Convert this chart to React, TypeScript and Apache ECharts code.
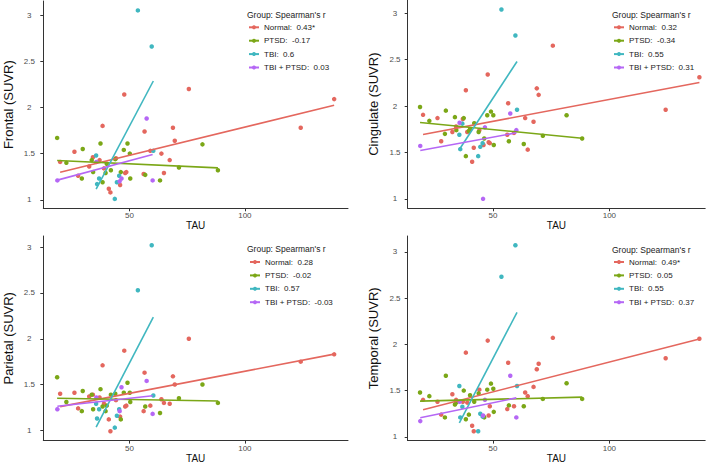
import React, { useEffect, useRef } from "react";
import * as echarts from "echarts";

// ---------- data ----------
const groups = ["Normal", "PTSD", "TBI", "TBI + PTSD"];
const groupColors = ["#E4675E", "#7BA717", "#40B7C0", "#B567F5"];

// TAU per subject, per group (same subjects in all four panels)
const normalTau = [19.9, 26.1, 27.7, 32.5, 34.1, 37.0, 38.3, 38.9, 41.0, 41.7, 44.1, 45.9, 47.7, 48.1, 48.6, 56.1, 56.5, 59.0, 63.8, 64.9, 67.4, 68.8, 69.6, 75.7, 124.2, 138.7];
const ptsdTau = [18.6, 22.6, 29.3, 29.7, 33.6, 34.2, 37.4, 38.3, 39.6, 40.1, 41.9, 43.8, 46.2, 47.5, 49.1, 50.1, 50.3, 56.8, 63.2, 71.4, 81.6, 88.3];
const tbiTau = [35.5, 35.9, 36.8, 43.6, 44.5, 45.5, 53.6, 59.6, 60.3];
const tbiPtsdTau = [18.7, 35.6, 45.7, 46.5, 57.4, 60.0];

// Frontal SUVR
const frontalNormal = [1.41, 1.52, 1.26, 1.36, 1.46, 1.43, 1.8, 1.34, 1.12, 1.08, 1.45, 1.16, 2.14, 1.29, 1.3, 1.28, 1.74, 1.53, 1.5, 1.29, 1.43, 1.78, 1.64, 2.2, 1.78, 2.09];
const frontalPtsd = [1.67, 1.4, 1.23, 1.55, 1.43, 1.3, 1.61, 1.19, 1.29, 1.39, 1.32, 1.44, 1.3, 1.54, 1.61, 1.5, 1.23, 1.27, 1.21, 1.35, 1.6, 1.32];
const frontalTbi = [1.48, 1.17, 1.23, 1.01, 1.19, 1.26, 3.05, 2.66, 1.53];
const frontalTbiPtsd = [1.21, 1.41, 1.2, 1.23, 1.88, 1.21];
const frontalFitStart = [1.299, 1.425, 1.115, 1.213];
const frontalFitEnd = [2.023, 1.346, 2.286, 1.49];
const frontalR = ["0.43*", "-0.17", "0.6", "0.03"];

// Cingulate SUVR
const cingulateNormal = [1.905, 1.87, 1.62, 1.72, 1.78, 1.86, 2.17, 1.72, 1.4, 1.55, 1.74, 1.58, 2.34, 1.61, 1.6, 1.69, 2.03, 1.71, 1.87, 1.53, 1.83, 2.19, 2.12, 2.65, 1.96, 2.31];
const cingulatePtsd = [1.99, 1.84, 1.7, 1.95, 1.88, 1.74, 1.87, 1.46, 1.73, 1.75, 1.815, 1.72, 1.65, 1.9, 1.94, 1.9, 1.58, 1.62, 1.59, 1.68, 1.9, 1.65];
const cingulateTbi = [1.69, 1.535, 1.81, 1.46, 1.56, 1.6, 3.04, 2.76, 1.96];
const cingulateTbiPtsd = [1.57, 1.82, 1.0, 1.77, 1.92, 1.74];
const cingulateFitStart = [1.693, 1.822, 1.531, 1.521];
const cingulateFitEnd = [2.253, 1.653, 2.479, 1.711];
const cingulateR = ["0.32", "-0.34", "0.55", "0.31"];

// Parietal SUVR
const parietalNormal = [1.4, 1.41, 1.24, 1.37, 1.39, 1.36, 1.71, 1.29, 1.12, 0.99, 1.33, 1.15, 1.87, 1.26, 1.27, 1.21, 1.63, 1.27, 1.34, 1.3, 1.29, 1.59, 1.5, 2.0, 1.75, 1.83];
const parietalPtsd = [1.58, 1.31, 1.21, 1.43, 1.39, 1.23, 1.45, 1.26, 1.21, 1.27, 1.39, 1.4, 1.12, 1.41, 1.52, 1.41, 1.31, 1.26, 1.19, 1.35, 1.5, 1.3];
const parietalTbi = [1.29, 1.13, 1.23, 1.03, 1.16, 1.23, 2.53, 3.02, 1.38];
const parietalTbiPtsd = [1.23, 1.36, 1.21, 1.47, 1.54, 1.18];
const parietalFitStart = [1.259, 1.35, 1.036, 1.263];
const parietalFitEnd = [1.832, 1.32, 2.236, 1.378];
const parietalR = ["0.28", "-0.02", "0.57", "-0.03"];

// Temporal SUVR
const temporalNormal = [1.4, 1.38, 1.24, 1.46, 1.4, 1.38, 1.91, 1.37, 1.12, 1.06, 1.51, 1.22, 2.04, 1.23, 1.33, 1.3, 1.8, 1.33, 1.48, 1.44, 1.54, 1.73, 1.79, 2.07, 1.85, 2.06];
const temporalPtsd = [1.48, 1.44, 1.21, 1.66, 1.35, 1.37, 1.5, 1.19, 1.24, 1.45, 1.38, 1.47, 1.21, 1.51, 1.575, 1.52, 1.27, 1.34, 1.33, 1.41, 1.58, 1.41];
const temporalTbi = [1.55, 1.21, 1.325, 1.06, 1.25, 1.22, 2.73, 3.07, 1.55];
const temporalTbiPtsd = [1.17, 1.38, 1.23, 1.4, 1.66, 1.21];
const temporalFitStart = [1.293, 1.386, 1.15, 1.207];
const temporalFitEnd = [2.057, 1.429, 2.346, 1.421];
const temporalR = ["0.49*", "0.05", "0.55", "0.37"];

const xTicks = [50, 100];
const yTicks = [1, 1.5, 2, 2.5, 3];
const legendTitle = "Group: Spearman's r";
const xName = "TAU";

const taus = [normalTau, ptsdTau, tbiTau, tbiPtsdTau];

// ---------- layout ----------
const panels = [
  { title: "Frontal (SUVR)", ys: [frontalNormal, frontalPtsd, frontalTbi, frontalTbiPtsd], fs: frontalFitStart, fe: frontalFitEnd, r: frontalR,
    grid: { left: 43.3, top: 1, width: 304.7, height: 207.3 }, xr: [12.6, 144.7], yr: [0.908, 3.152], lm: 14,
    legLeft: 248, legTop: 22.8, titLeft: 247, titTop: 10 },
  { title: "Cingulate (SUVR)", ys: [cingulateNormal, cingulatePtsd, cingulateTbi, cingulateTbiPtsd], fs: cingulateFitStart, fe: cingulateFitEnd, r: cingulateR,
    grid: { left: 407.7, top: 0, width: 297.5, height: 208.3 }, xr: [13.3, 141.2], yr: [0.898, 3.142], lm: 12.7,
    legLeft: 613, legTop: 22.8, titLeft: 612, titTop: 10 },
  { title: "Parietal (SUVR)", ys: [parietalNormal, parietalPtsd, parietalTbi, parietalTbiPtsd], fs: parietalFitStart, fe: parietalFitEnd, r: parietalR,
    grid: { left: 43.3, top: 236, width: 304.7, height: 206.3 }, xr: [12.6, 144.7], yr: [0.8885, 3.1215], lm: 14,
    legLeft: 249, legTop: 257.5, titLeft: 247, titTop: 244.5 },
  { title: "Temporal (SUVR)", ys: [temporalNormal, temporalPtsd, temporalTbi, temporalTbiPtsd], fs: temporalFitStart, fe: temporalFitEnd, r: temporalR,
    grid: { left: 407.7, top: 236, width: 297.5, height: 206.5 }, xr: [13.3, 141.2], yr: [0.9595, 3.1705], lm: 12.7,
    legLeft: 613, legTop: 257.5, titLeft: 612, titTop: 245 },
];

const FONT = "Liberation Sans, Arial, Helvetica, sans-serif";
const AX = "#333333";

function buildOption() {
  const grid: any[] = [];
  const xAxis: any[] = [];
  const yAxis: any[] = [];
  const series: any[] = [];
  const legend: any[] = [];
  const title: any[] = [];

  panels.forEach((p, pi) => {
    grid.push({ ...p.grid });
    xAxis.push({
      gridIndex: pi, type: "value", min: p.xr[0], max: p.xr[1],
      name: xName, nameLocation: "middle", nameGap: 12,
      nameTextStyle: { fontSize: 10, color: "#111", fontFamily: FONT },
      axisLine: { show: true, lineStyle: { color: AX, width: 1 } },
      axisTick: { show: true, length: 3, lineStyle: { color: AX }, customValues: xTicks },
      axisLabel: { customValues: xTicks, fontSize: 8, color: "#4d4d4d", margin: 3.5, fontFamily: FONT },
      splitLine: { show: false },
    });
    yAxis.push({
      gridIndex: pi, type: "value", min: p.yr[0], max: p.yr[1],
      name: p.title, nameLocation: "middle", nameGap: 28,
      nameTextStyle: { fontSize: 13, color: "#111", fontFamily: FONT },
      axisLine: { show: true, lineStyle: { color: AX, width: 1 } },
      axisTick: { show: true, length: 3, lineStyle: { color: AX }, customValues: yTicks },
      axisLabel: { customValues: yTicks, fontSize: 8, color: "#4d4d4d", margin: p.lm, align: "center", fontFamily: FONT },
      splitLine: { show: false },
    });
    groups.forEach((g, gi) => {
      const xs = taus[gi];
      series.push({
        type: "scatter", name: g + " points", xAxisIndex: pi, yAxisIndex: pi,
        data: xs.map((x, i) => [x, p.ys[gi][i]]),
        symbolSize: 4.5, itemStyle: { color: groupColors[gi], opacity: 1 }, z: 2, silent: true,
      });
    });
    groups.forEach((g, gi) => {
      const xs = taus[gi];
      const x0 = Math.min(...xs);
      const x1 = Math.max(...xs);
      series.push({
        type: "line", name: g, xAxisIndex: pi, yAxisIndex: pi,
        data: [[x0, p.fs[gi]], [x1, p.fe[gi]]],
        symbol: "circle", showSymbol: false, symbolSize: 4,
        lineStyle: { color: groupColors[gi], width: 1.6 },
        itemStyle: { color: groupColors[gi] }, z: 3, silent: true,
      });
    });
    legend.push({
      data: groups, orient: "vertical", left: p.legLeft, top: p.legTop,
      itemWidth: 10, itemHeight: 5, itemGap: 4.4, padding: 0, selectedMode: false,
      textStyle: { fontSize: 8, color: "#222", lineHeight: 9, fontFamily: FONT },
      formatter: (name: string) => `${name}:  ${p.r[groups.indexOf(name)]}`,
    });
    title.push({
      text: legendTitle, left: p.titLeft, top: p.titTop, padding: 0,
      textStyle: { fontSize: 8.5, fontWeight: "normal", color: "#222", fontFamily: FONT },
    });
  });

  return {
    animation: false,
    backgroundColor: "#ffffff",
    textStyle: { fontFamily: FONT },
    title, legend, grid, xAxis, yAxis, series,
  };
}

export default function App() {
  const ref = useRef<HTMLDivElement>(null);
  useEffect(() => {
    if (!ref.current) return;
    const chart = echarts.init(ref.current, null, { renderer: "svg" });
    chart.setOption(buildOption());
    return () => chart.dispose();
  }, []);
  return (
    <div
      ref={ref}
      style={{ position: "fixed", left: 0, top: 0, width: 714, height: 464, background: "#fff" }}
    />
  );
}
